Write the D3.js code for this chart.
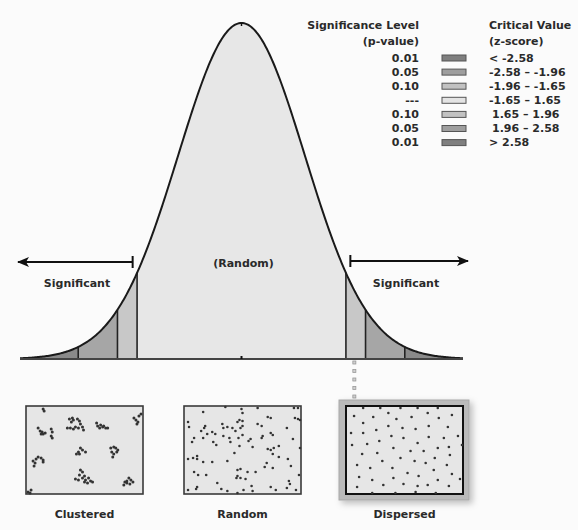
<!DOCTYPE html>
<html><head><meta charset="utf-8">
<script src="https://cdn.jsdelivr.net/npm/d3@7"></script>
<style>
html,body{margin:0;padding:0;background:#fbfbfb;}
svg{display:block;font-family:"DejaVu Sans",Verdana,sans-serif;font-weight:bold;}
</style></head>
<body>
<svg id="c" width="578" height="530"></svg>
<script>
// ---------- data ----------
const zDomain = [-3.5, 3.5];
const criticalValues = [-2.58, -1.96, -1.65, 1.65, 1.96, 2.58];
const bandEdges = [-3.5, -2.58, -1.96, -1.65, 1.65, 1.96, 2.58, 3.5];
const bandColors = ["#8a8a8a", "#a6a6a6", "#c8c8c8", "#e7e7e7", "#c8c8c8", "#a6a6a6", "#8a8a8a"];
const pValues = ["0.01", "0.05", "0.10", "---", "0.10", "0.05", "0.01"];
const zRanges = ["< -2.58", "-2.58 – -1.96", "-1.96 – -1.65", "-1.65 – 1.65", "1.65 – 1.96", "1.96 – 2.58", "> 2.58"];
const legendColors = ["#7f7f7f", "#9e9e9e", "#c2c2c2", "#e4e4e4", "#c2c2c2", "#9e9e9e", "#7f7f7f"];
const patternLabels = ["Clustered", "Random", "Dispersed"];

// point patterns, box units (0..116 x 0..88)
const clusteredPts = [
 [17,3],[18,5],
 [12,22],[14,25],[16,26],[17,28],[15,28],[19,27],[25,23],[26,26],[25,30],[26,32],
 [43,13],[46,12],[45,16],[47,14],[51,13],[53,15],[41,22],[44,22],[47,23],[49,21],[52,22],[56,21],[57,24],[54,18],
 [70,17],[71,20],[73,22],[76,21],[77,20],[79,22],[81,22],[74,19],
 [107,12],[109,14],[111,16],[110,18],[112,10],[114,8],
 [50,48],[52,46],[54,42],[56,44],[59,46],[53,48],
 [84,42],[87,41],[89,42],[91,44],[85,46],[87,48],[86,51],[90,46],
 [7,55],[10,53],[12,51],[15,52],[17,56],[8,60],[9,57],[17,54],
 [54,64],[56,66],[53,69],[58,70],[49,73],[52,74],[56,72],[59,74],[62,72],[64,75],[61,77],[66,76],[58,76],
 [97,79],[98,76],[100,75],[102,72],[104,74],[106,76],[103,78],[100,77],
 [2,86],[5,84],[4,87]
];
const randomPts = [
 [19,6],[57,3],[58,7],[73,2],[41,1],[109,2],[113,2],[4,16],[5,21],[21,20],[20,22],[17,25],
 [38,18],[39,22],[43,21],[55,14],[53,16],[58,15],[48,22],[51,25],[56,22],[58,20],[73,18],[77,20],
 [83,11],[86,12],[102,22],[110,12],[113,13],[115,14],[8,36],[10,32],[19,32],[23,28],[28,26],[31,28],
 [39,30],[45,32],[46,36],[54,32],[58,29],[64,35],[66,33],[68,41],[78,30],[77,32],[86,27],[88,29],
 [29,36],[32,39],[55,40],[83,43],[86,44],[89,42],[88,48],[94,40],[108,33],[4,53],[9,52],[13,50],
 [13,53],[19,56],[28,56],[43,55],[50,47],[94,51],[103,53],[106,60],[115,42],[10,66],[14,69],[22,69],
 [53,64],[56,63],[52,72],[53,70],[56,72],[61,73],[63,66],[71,66],[80,61],[82,57],[88,62],[104,75],
 [105,78],[114,69],[33,77],[4,84],[12,83],[13,81],[37,83],[43,85],[53,87],[59,84],[67,80],[68,85],
 [86,81],[91,84],[102,82],[111,84]
];
const dispersedPts = [
 [17,2],[34,2],[54,2],[71,2],[91,2],
 [8,10],[27,11],[42,7],[50,13],[65,11],[81,7],[92,12],[105,9],
 [17,17],[30,24],[42,20],[56,22],[69,23],[82,20],[101,21],
 [5,27],[17,27],[45,30],[57,32],[71,37],[82,31],[97,32],[111,30],
 [6,39],[21,38],[33,35],[47,42],[64,45],[77,45],[91,42],[102,41],[115,39],
 [16,48],[31,47],[54,52],[68,55],[79,57],[88,52],[103,49],
 [11,59],[24,62],[36,55],[46,62],[61,67],[72,70],[87,64],[100,59],
 [13,71],[26,74],[47,72],[57,78],[81,79],[91,74],[105,68],[113,73],
 [11,81],[37,79],[71,80],[102,80],
 [26,87],[49,87],[69,86],[89,87]
];

// ---------- drawing ----------
const svg = d3.select("#c");
const defs = svg.append("defs");
defs.append("marker").attr("id","ah").attr("viewBox","0 0 12 10").attr("refX",11).attr("refY",5)
  .attr("markerWidth",12).attr("markerHeight",10).attr("markerUnits","userSpaceOnUse").attr("orient","auto")
  .append("path").attr("d","M0,0 L12,5 L0,10 L3,5 Z").attr("fill","#111");
const f = defs.append("filter").attr("id","sh").attr("x","-20%").attr("y","-20%").attr("width","150%").attr("height","150%");
f.append("feDropShadow").attr("dx",3).attr("dy",3).attr("stdDeviation",3).attr("flood-color","#000").attr("flood-opacity",0.25);

const baseY = 359, peakY = 23;
const x = d3.scaleLinear().domain(zDomain).range([20, 463]);
const pdf = z => Math.exp(-z*z/2) / Math.sqrt(2*Math.PI);
const y = d3.scaleLinear().domain([0, pdf(0)]).range([baseY, peakY]);

function samples(a, b) {
  const n = Math.max(2, Math.ceil((b - a) / 0.02));
  return d3.range(n + 1).map(i => a + (b - a) * i / n);
}
const area = d3.area().x(d => x(d)).y0(baseY).y1(d => y(pdf(d)));
const line = d3.line().x(d => x(d)).y(d => y(pdf(d)));

svg.append("g").selectAll("path").data(d3.range(bandEdges.length - 1)).join("path")
  .attr("d", i => area(samples(bandEdges[i], bandEdges[i+1])))
  .attr("fill", i => bandColors[i]);

svg.append("g").selectAll("line").data(criticalValues).join("line")
  .attr("x1", d => x(d)).attr("x2", d => x(d))
  .attr("y1", baseY).attr("y2", d => y(pdf(d)))
  .attr("stroke", "#222").attr("stroke-width", 1.6);

svg.append("path").attr("d", line(samples(zDomain[0], zDomain[1])))
  .attr("fill","none").attr("stroke","#1a1a1a").attr("stroke-width",2);

svg.append("line").attr("x1", x(zDomain[0])).attr("x2", x(zDomain[1]))
  .attr("y1", baseY).attr("y2", baseY).attr("stroke","#444").attr("stroke-width",2);
svg.append("line").attr("x1", x(0)).attr("x2", x(0)).attr("y1", baseY - 3).attr("y2", baseY)
  .attr("stroke","#111").attr("stroke-width",2);
svg.append("line").attr("x1", x(0)).attr("x2", x(0)).attr("y1", y(pdf(0))).attr("y2", y(pdf(0)) + 3)
  .attr("stroke","#111").attr("stroke-width",1.5);

const arrowY = 262;
svg.append("line").attr("x1", x(-1.72)).attr("x2", 18).attr("y1", arrowY).attr("y2", arrowY)
  .attr("stroke","#111").attr("stroke-width",2).attr("marker-end","url(#ah)");
svg.append("line").attr("x1", x(-1.72)).attr("x2", x(-1.72)).attr("y1", arrowY - 6).attr("y2", arrowY + 6)
  .attr("stroke","#111").attr("stroke-width",2);
svg.append("line").attr("x1", x(1.72)).attr("x2", 468).attr("y1", arrowY - 1).attr("y2", arrowY - 1)
  .attr("stroke","#111").attr("stroke-width",2).attr("marker-end","url(#ah)");
svg.append("line").attr("x1", x(1.72)).attr("x2", x(1.72)).attr("y1", arrowY - 7).attr("y2", arrowY + 5)
  .attr("stroke","#111").attr("stroke-width",2);

const txt = (t, tx, ty, anchor, fs) => svg.append("text").attr("x", tx).attr("y", ty)
  .attr("text-anchor", anchor || "middle").attr("dominant-baseline","central")
  .attr("font-size", fs || 11).attr("fill", "#2a2a2a").text(t);
txt("Significant", 77, 283);
txt("Significant", 406, 283);
txt("(Random)", x(0) + 2, 263);

const legY0 = 58, legStep = 14.1;
txt("Significance Level", 419, 25, "end");
txt("(p-value)", 419, 41, "end");
txt("Critical Value", 489, 25, "start");
txt("(z-score)", 489, 41, "start");
const leg = svg.append("g");
pValues.forEach((p, i) => {
  const ly = legY0 + i * legStep;
  txt(p, 419, ly, "end");
  leg.append("rect").attr("x", 442).attr("y", ly - 3).attr("width", 24).attr("height", 6)
    .attr("fill", legendColors[i]).attr("stroke", "#555").attr("stroke-width", 1);
  txt(zRanges[i], i >= 4 && i <= 5 ? 492 : 489, ly, "start");
});

const connX = x(1.72) + 4;
svg.append("g").selectAll("rect").data(d3.range(5)).join("rect")
  .attr("x", connX - 1.5).attr("y", i => 361 + i * 8.5).attr("width", 3).attr("height", 3)
  .attr("fill", "#d0d0d0").attr("stroke", "#999").attr("stroke-width", 0.8);

const boxX = [26, 184, 346];
const boxTop = 406, boxW = 117, boxH = 88;
const sets = [clusteredPts, randomPts, dispersedPts];
svg.append("rect").attr("x", boxX[2] - 7).attr("y", boxTop - 6).attr("width", boxW + 13).attr("height", boxH + 12)
  .attr("fill", "#bababa").attr("stroke", "#a8a8a8").attr("filter", "url(#sh)");
sets.forEach((pts, k) => {
  const bx = d3.scaleLinear().domain([0, 116]).range([boxX[k], boxX[k] + boxW]);
  const by = d3.scaleLinear().domain([0, 88]).range([boxTop, boxTop + boxH]);
  const g = svg.append("g");
  g.append("rect").attr("x", boxX[k]).attr("y", boxTop).attr("width", boxW).attr("height", boxH)
    .attr("fill", "#e6e6e6").attr("stroke", k === 2 ? "#111" : "#3a3a3a").attr("stroke-width", k === 2 ? 2 : 1.6);
  g.selectAll("circle").data(pts).join("circle")
    .attr("cx", d => bx(d[0])).attr("cy", d => by(d[1]))
    .attr("r", k === 0 ? 1.5 : 1.3).attr("fill", "#333");
  txt(patternLabels[k], boxX[k] + boxW / 2, 514);
});
</script>
</body></html>
